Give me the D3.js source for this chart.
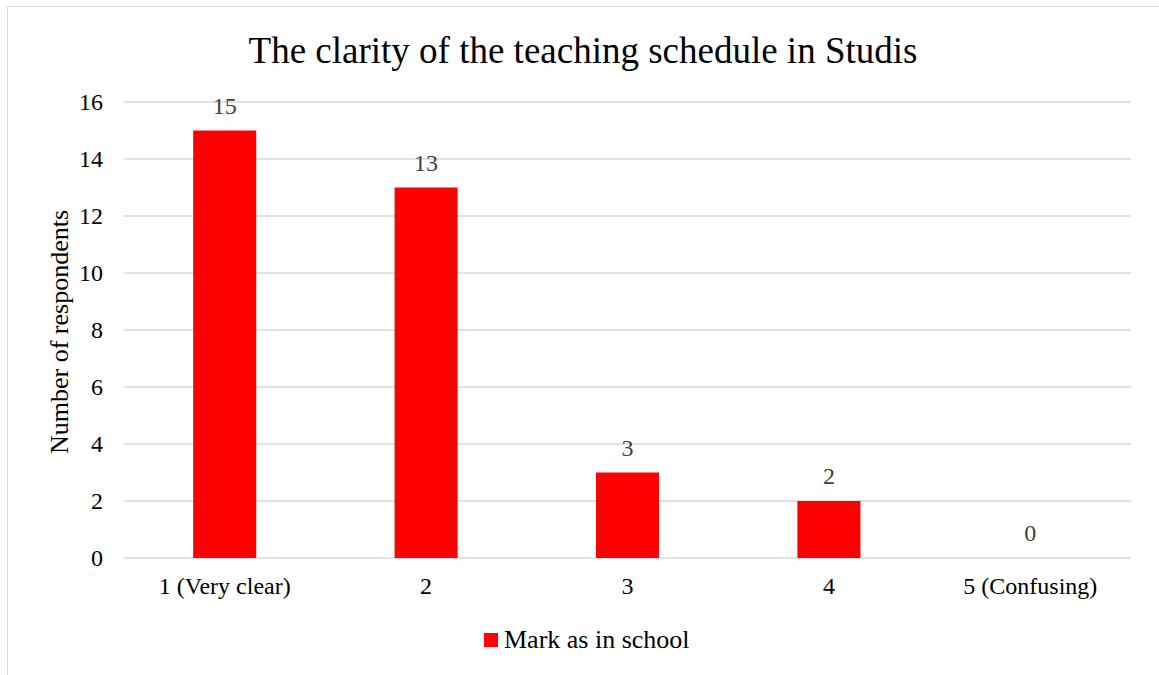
<!DOCTYPE html>
<html>
<head>
<meta charset="utf-8">
<script src="https://cdn.jsdelivr.net/npm/d3@7"></script>
<style>
  body { margin: 0; background: #fff; }
</style>
</head>
<body>
<div id="chart"></div>
<script>
const categories = ['1 (Very clear)', '2', '3', '4', '5 (Confusing)'];
const values = [15, 13, 3, 2, 0];
const yTicks = [0, 2, 4, 6, 8, 10, 12, 14, 16];
const seriesName = 'Mark as in school';
const title = 'The clarity of the teaching schedule in Studis';
const yLabel = 'Number of respondents';

const FONT = '"Liberation Serif", "Times New Roman", serif';
const width = 1159, height = 675;
const margin = { top: 102, right: 28, bottom: 117, left: 124 };
const innerWidth = width - margin.left - margin.right;
const innerHeight = height - margin.top - margin.bottom;

const svg = d3.select('#chart')
    .append('svg')
    .attr('width', width)
    .attr('height', height)
    .attr('font-family', FONT)
    .style('display', 'block');

// Cadre du graphique (bords gauche et haut visibles)
svg.append('path')
    .attr('d', `M7.5,${height} V6.5 H${width}`)
    .attr('fill', 'none')
    .attr('stroke', '#d9d9d9')
    .attr('stroke-width', 1);

const g = svg.append('g')
    .attr('transform', `translate(${margin.left},${margin.top})`);

const xScale = d3.scaleBand()
    .domain(categories)
    .range([0, innerWidth])
    .paddingInner(0.687)
    .paddingOuter(0.3435);

const yScale = d3.scaleLinear()
    .domain([0, 16])
    .range([innerHeight, 0]);

// Grille
g.selectAll('.grid')
    .data(yTicks)
    .enter()
    .append('line')
    .attr('x1', 0)
    .attr('x2', innerWidth)
    .attr('y1', d => yScale(d))
    .attr('y2', d => yScale(d))
    .attr('stroke', '#d9d9d9')
    .attr('stroke-width', 1.5);

// Axe Y
const yAxis = d3.axisLeft(yScale).tickValues(yTicks).tickSize(0).tickPadding(21);
const yg = g.append('g').call(yAxis)
    .attr('font-family', FONT)
    .attr('font-size', 24);
yg.select('.domain').remove();
yg.selectAll('text').attr('fill', '#000');

// Axe X
const xAxis = d3.axisBottom(xScale).tickSize(0).tickPadding(19);
const xg = g.append('g')
    .attr('transform', `translate(0,${innerHeight})`)
    .call(xAxis)
    .attr('font-family', FONT)
    .attr('font-size', 24);
xg.select('.domain').remove();
xg.selectAll('text').attr('fill', '#000');

// Barres
g.selectAll('.bar')
    .data(values)
    .enter()
    .append('rect')
    .attr('class', 'bar')
    .attr('x', (d, i) => xScale(categories[i]))
    .attr('y', d => yScale(d))
    .attr('width', xScale.bandwidth())
    .attr('height', d => innerHeight - yScale(d))
    .attr('fill', '#ff0000');

// Étiquettes de valeurs
g.selectAll('.label')
    .data(values)
    .enter()
    .append('text')
    .attr('class', 'label')
    .attr('x', (d, i) => xScale(categories[i]) + xScale.bandwidth() / 2)
    .attr('y', d => yScale(d) - 17)
    .attr('text-anchor', 'middle')
    .attr('font-size', 24)
    .attr('fill', '#404040')
    .text(d => d);

// Titre
svg.append('text')
    .attr('x', 583)
    .attr('y', 63)
    .attr('text-anchor', 'middle')
    .attr('font-size', 37)
    .attr('fill', '#000')
    .text(title);

// Titre axe Y
svg.append('text')
    .attr('transform', `translate(68,${margin.top + innerHeight / 2 + 2}) rotate(-90)`)
    .attr('text-anchor', 'middle')
    .attr('font-size', 26)
    .attr('fill', '#000')
    .text(yLabel);

// Légende
const legend = svg.append('g').attr('transform', 'translate(484,633)');
legend.append('rect')
    .attr('width', 14).attr('height', 14)
    .attr('fill', '#ff0000');
legend.append('text')
    .attr('x', 20)
    .attr('y', 15)
    .attr('font-size', 26)
    .attr('fill', '#000')
    .text(seriesName);
</script>
</body>
</html>
